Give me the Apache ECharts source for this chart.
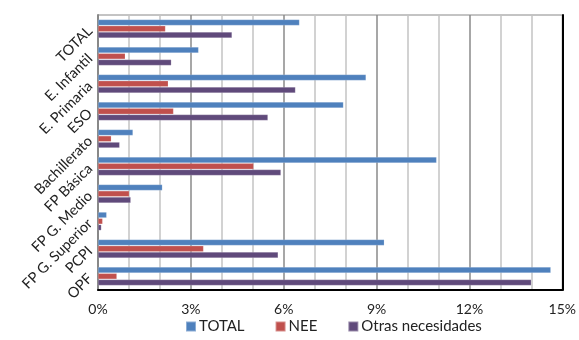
<!DOCTYPE html>
<html><head><meta charset="utf-8">
<script src="https://cdn.jsdelivr.net/npm/echarts@6/dist/echarts.min.js"></script>
<style>html,body{margin:0;padding:0;background:#fff}#c{width:579px;height:340px}</style>
</head><body><div id="c"></div>
<script>
const categories = ['TOTAL','E. Infantil','E. Primaria','ESO','Bachillerato','FP Básica','FP G. Medio','FP G. Superior','PCPI','OPF'];
const seriesNames = ['TOTAL','NEE','Otras necesidades'];
const totalValues = [6.51, 3.25, 8.66, 7.93, 1.13, 10.94, 2.08, 0.28, 9.25, 14.63];
const neeValues   = [2.18, 0.88, 2.27, 2.44, 0.43, 5.03, 1.01, 0.15, 3.41, 0.61];
const otrasValues = [4.33, 2.37, 6.38, 5.49, 0.70, 5.91, 1.06, 0.11, 5.82, 14.00];
const xTicks = [0, 3, 6, 9, 12, 15];
const colors = ['#4F81BD','#C0504D','#604A7B'];
const font = 'Lato, "Open Sans", sans-serif';

const chart = echarts.init(document.getElementById('c'), null, {renderer:'canvas'});
const mk = (name, data, color) => ({
  name, type:'bar', data, barWidth:5.8, barGap:'8%',
  itemStyle:{color, borderColor:'rgba(255,255,255,0.35)', borderWidth:0.5},
  yAxisIndex:0
});
chart.setOption({
  animation:false,
  color: colors,
  textStyle:{fontFamily:font},
  grid:{left:98, right:14, top:15, bottom:50, show:true, borderColor:'#888', borderWidth:1},
  legend:{
    bottom:1, left:180, itemWidth:10, itemHeight:10, itemGap:30,
    icon:'rect', textStyle:{fontFamily:font, fontSize:15, color:'#222', padding:[0,0,0,-2]},
    data: seriesNames
  },
  xAxis:{
    type:'value', min:xTicks[0], max:xTicks[xTicks.length-1], interval:3,
    axisLine:{show:true, lineStyle:{color:'#000', width:2}},
    axisTick:{show:false},
    axisLabel:{formatter:'{value}%', fontFamily:font, fontSize:14, color:'#222', margin:12},
    splitLine:{show:true, lineStyle:{color:'#8a8a8a', width:1.5}},
    minorSplitLine:{show:true, lineStyle:{color:'#c4c4c4', width:1.5}},
    minorTick:{show:false, splitNumber:3}
  },
  yAxis:[{
    type:'category', data:categories, inverse:true,
    axisLine:{show:true, lineStyle:{color:'#888', width:2}},
    axisTick:{show:false},
    axisLabel:{rotate:45, fontFamily:font, fontSize:14.5, color:'#222', margin:8, interval:0}
  },{
    type:'category', data:categories, inverse:true, position:'right',
    axisLine:{show:true, lineStyle:{color:'#000', width:2}},
    axisTick:{show:false}, axisLabel:{show:false}, splitLine:{show:false}
  }],
  series:[
    mk(seriesNames[0], totalValues, colors[0]),
    mk(seriesNames[1], neeValues, colors[1]),
    mk(seriesNames[2], otrasValues, colors[2])
  ]
});
</script></body></html>
